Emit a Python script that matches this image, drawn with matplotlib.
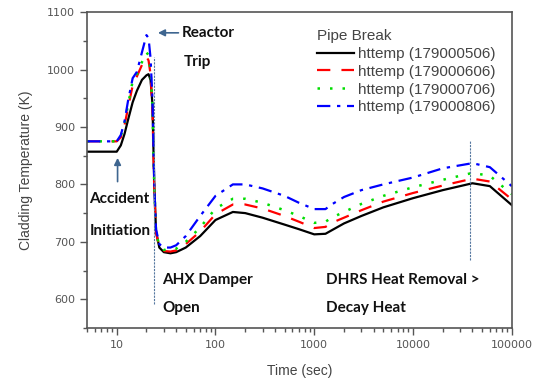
import matplotlib
matplotlib.use('Agg')
import matplotlib.pyplot as plt
from matplotlib.ticker import FixedLocator, MultipleLocator, NullFormatter
import numpy as np

# time points (sec)
time = [5, 10, 11, 12, 13, 14.5, 16, 18, 20, 21, 22, 23, 24, 25, 27, 30, 35, 40, 50, 70,
        100, 150, 200, 300, 500, 700, 1000, 1300, 1500, 2000, 3000, 5000, 10000, 20000,
        40000, 60000, 100000]

t_506 = [857, 857, 868, 888, 912, 943, 963, 982, 990, 992, 982, 940, 800, 718, 690, 682, 680,
         682, 690, 710, 738, 752, 750, 742, 730, 722, 713, 714, 720, 732, 745, 760, 776, 790,
         802, 797, 764]
t_606 = [875, 875, 882, 903, 933, 972, 988, 1008, 1022, 1016, 992, 930, 790, 716, 690, 684, 683,
         685, 696, 718, 748, 765, 765, 758, 745, 735, 724, 726, 733, 742, 755, 770, 785, 798,
         810, 805, 774]
t_706 = [875, 875, 884, 906, 938, 980, 992, 1013, 1030, 1025, 998, 935, 795, 718, 692, 686, 685,
         688, 700, 725, 758, 775, 775, 768, 755, 745, 733, 735, 742, 752, 766, 780, 795, 808,
         820, 815, 783]
t_806 = [875, 875, 886, 910, 945, 985, 996, 1030, 1060, 1055, 1020, 950, 800, 722, 696, 690, 690,
         694, 710, 745, 780, 800, 800, 793, 780, 768, 757, 757, 765, 778, 790, 800, 812, 828,
         837, 830, 797]

labels = ['httemp (179000506)', 'httemp (179000606)', 'httemp (179000706)', 'httemp (179000806)']

fig = plt.figure(figsize=(5.37, 3.8), dpi=100)
ax = fig.add_axes([0.162, 0.137, 0.791, 0.831])

ax.plot(time, t_506, color='black', lw=1.6, ls='-', label=labels[0])
ax.plot(time, t_606, color='#ff0000', lw=1.6, ls=(0, (6, 5)), label=labels[1])
ax.plot(time, t_706, color='#00dd00', lw=1.8, ls=(0, (1, 4)), label=labels[2])
ax.plot(time, t_806, color='#0000ff', lw=1.6, ls=(0, (6, 3, 1.5, 3)), label=labels[3])

# event markers
ax.vlines(24, 592, 1022, color='#5577a0', lw=0.8, ls=(0, (2, 1)))
ax.vlines(38000, 668, 878, color='#5577a0', lw=0.8, ls=(0, (2, 1)))

arrow_color = '#3f6690'
ax.annotate('', xy=(10.2, 851), xytext=(10.2, 800),
            arrowprops=dict(arrowstyle='-|>', color=arrow_color, lw=1.2, mutation_scale=10))
ax.annotate('', xy=(24.5, 1064), xytext=(45, 1064),
            arrowprops=dict(arrowstyle='-|>', color=arrow_color, lw=1.2, mutation_scale=10))

bold = dict(fontsize=11, fontweight='bold', family='Lato', color='#111111', va='center')
ax.text(46, 1064, 'Reactor', **bold)
ax.text(48, 1013, 'Trip', **bold)
ax.text(5.3, 774, 'Accident', **bold)
ax.text(5.3, 719, 'Initiation', **bold)
ax.text(29, 634, 'AHX Damper', **bold)
ax.text(29, 584, 'Open', **bold)
ax.text(1320, 634, 'DHRS Heat Removal >', **bold)
ax.text(1320, 584, 'Decay Heat', **bold)

ax.set_xscale('log')
ax.set_xlim(5, 100000)
ax.set_ylim(550, 1100)
ax.yaxis.set_major_locator(FixedLocator([600, 700, 800, 900, 1000, 1100]))
ax.yaxis.set_minor_locator(MultipleLocator(50))
ax.set_xticks([10, 100, 1000, 10000, 100000])
ax.set_xticklabels(['10', '100', '1000', '10000', '100000'])
ax.xaxis.set_minor_formatter(NullFormatter())

for s in ax.spines.values():
    s.set_color('#555555')
    s.set_linewidth(1.2)
ax.tick_params(which='both', direction='out', colors='#555555', labelcolor='#555555',
               labelsize=8, width=1)
ax.tick_params(which='major', length=5)
ax.tick_params(which='minor', length=3)

ax.set_xlabel('Time (sec)', fontsize=10, color='#444444', family='Liberation Sans', labelpad=10)
ax.set_ylabel('Cladding Temperature (K)', fontsize=10, color='#444444', family='Liberation Sans', labelpad=10)

leg = ax.legend(loc='upper left', bbox_to_anchor=(0.51, 0.99), frameon=False,
                title='Pipe Break', handlelength=2.4, handletextpad=0.25, labelspacing=0.25,
                alignment='left', prop={'family': 'Liberation Sans', 'size': 11},
                title_fontproperties={'family': 'Liberation Sans', 'size': 11})
leg.get_title().set_color('#444444')
for t in leg.get_texts():
    t.set_color('#444444')

fig.savefig('out.png', dpi=100)
